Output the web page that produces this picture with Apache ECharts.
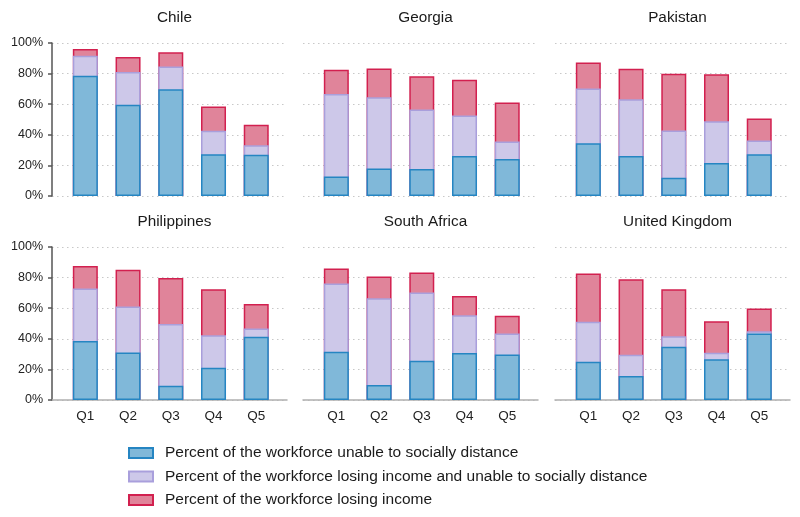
<!DOCTYPE html>
<html>
<head>
<meta charset="utf-8">
<script src="https://cdn.jsdelivr.net/npm/echarts@6/dist/echarts.min.js"></script>
<style>
html,body{margin:0;padding:0;background:#fff;}
#chart{width:800px;height:517px;}
</style>
</head>
<body>
<div id="chart"></div>
<script>
// ---- data ----
const categories = ['Q1', 'Q2', 'Q3', 'Q4', 'Q5'];
const countries = ['Chile', 'Georgia', 'Pakistan', 'Philippines', 'South Africa', 'United Kingdom'];
const seriesNames = [
  'Percent of the workforce unable to socially distance',
  'Percent of the workforce losing income and unable to socially distance',
  'Percent of the workforce losing income'
];
// segment heights (percent) per country
const unableChile = [78.6, 59.6, 69.7, 27.3, 26.9];
const bothChile   = [13.1, 21.4, 15.0, 15.3, 6.3];
const incomeChile = [4.4, 9.8, 9.2, 15.9, 13.3];

const unableGeorgia = [12.7, 17.9, 17.7, 26.2, 24.2];
const bothGeorgia   = [53.9, 46.7, 38.9, 26.4, 11.4];
const incomeGeorgia = [15.9, 18.8, 21.6, 23.4, 25.5];

const unablePakistan = [34.5, 26.2, 12.0, 21.6, 27.3];
const bothPakistan   = [35.8, 37.1, 30.8, 27.3, 8.9];
const incomePakistan = [17.0, 19.9, 37.1, 30.6, 14.5];

const unablePhilippines = [38.5, 31.1, 9.3, 21.1, 41.3];
const bothPhilippines   = [34.3, 30.0, 40.3, 21.3, 5.4];
const incomePhilippines = [14.8, 24.1, 30.2, 30.0, 16.1];

const unableSouthAfrica = [31.5, 9.8, 25.7, 30.7, 29.8];
const bothSouthAfrica   = [44.6, 56.7, 44.5, 24.7, 13.7];
const incomeSouthAfrica = [9.8, 14.2, 13.1, 12.6, 11.5];

const unableUK = [25.0, 15.7, 34.8, 26.7, 43.5];
const bothUK   = [26.1, 13.9, 6.9, 4.2, 1.5];
const incomeUK = [31.5, 49.3, 30.7, 20.6, 14.8];

const yTicks = [0, 20, 40, 60, 80, 100];

const panelData = [
  [unableChile, bothChile, incomeChile],
  [unableGeorgia, bothGeorgia, incomeGeorgia],
  [unablePakistan, bothPakistan, incomePakistan],
  [unablePhilippines, bothPhilippines, incomePhilippines],
  [unableSouthAfrica, bothSouthAfrica, incomeSouthAfrica],
  [unableUK, bothUK, incomeUK]
];

// ---- styles ----
const FONT = 'Liberation Sans, Arial, sans-serif';
const fills = ['#80b8d9', '#cdc8e9', '#e0849a'];
const borders = ['#2585c2', '#a99fdc', '#d2204f'];
const panelLeft = [52, 303, 555];
const panelTop = [43, 247];
const panelW = 235, panelH = 153;

const grids = [], xAxes = [], yAxes = [], series = [], titles = [];
for (let i = 0; i < 6; i++) {
  const col = i % 3, row = Math.floor(i / 3);
  grids.push({left: panelLeft[col], top: panelTop[row], width: panelW, height: panelH, containLabel: false});
  titles.push({
    text: countries[i],
    left: panelLeft[col] + panelW / 2,
    top: panelTop[row] - 38,
    textAlign: 'center',
    textStyle: {fontFamily: FONT, fontSize: 15.3, fontWeight: 'normal', color: '#1a1a1a'}
  });
  xAxes.push({
    gridIndex: i, type: 'value', min: 0.22, max: 5.72,
    axisLine: {show: row === 1, onZero: false, lineStyle: {color: '#b0b0b0', width: 1.5}},
    axisTick: {show: false},
    splitLine: {show: false},
    axisLabel: {
      show: row === 1, customValues: [1, 2, 3, 4, 5], margin: 9,
      formatter: v => categories[Math.round(v) - 1] || '',
      fontFamily: FONT, fontSize: 13.5, color: '#222'
    }
  });
  yAxes.push({
    gridIndex: i, type: 'value', min: 0, max: 100, interval: 20,
    axisLine: {show: col === 0, lineStyle: {color: '#555', width: 1.5}},
    axisTick: {show: col === 0, length: 4, lineStyle: {color: '#555', width: 1.5}},
    axisLabel: {show: col === 0, formatter: v => v + '%', margin: 9, fontFamily: FONT, fontSize: 12.5, color: '#222'},
    splitLine: {show: true, lineStyle: {type: [1.5, 3.5], color: '#c8c8c8', width: 1.2}}
  });
  // cumulative tops; draw top segment first so lower segments are painted over it
  const seg = panelData[i];
  const tops = [0, 1, 2].map(s => seg[0].map((_, k) => {
    let t = 0; for (let j = 0; j <= s; j++) t += seg[j][k]; return +t.toFixed(2);
  }));
  for (let s = 2; s >= 0; s--) {
    series.push({
      name: seriesNames[s], type: 'bar', xAxisIndex: i, yAxisIndex: i,
      barWidth: 25, barGap: '-100%',
      itemStyle: {color: fills[s], borderColor: borders[s], borderWidth: 1.5},
      emphasis: {disabled: true},
      data: tops[s].map((v, k) => [k + 1, v])
    });
  }
}

const chart = echarts.init(document.getElementById('chart'), null, {renderer: 'canvas'});
chart.setOption({
  animation: false,
  backgroundColor: '#fff',
  title: titles,
  grid: grids,
  xAxis: xAxes,
  yAxis: yAxes,
  legend: {
    data: seriesNames,
    orient: 'vertical',
    left: 123, top: 440,
    icon: 'rect',
    itemWidth: 24, itemHeight: 10, itemGap: 7.5,
    selectedMode: false,
    textStyle: {fontFamily: FONT, fontSize: 15.5, color: '#1a1a1a', padding: [0, 0, 0, 7]}
  },
  series: series
});
</script>
</body>
</html>
